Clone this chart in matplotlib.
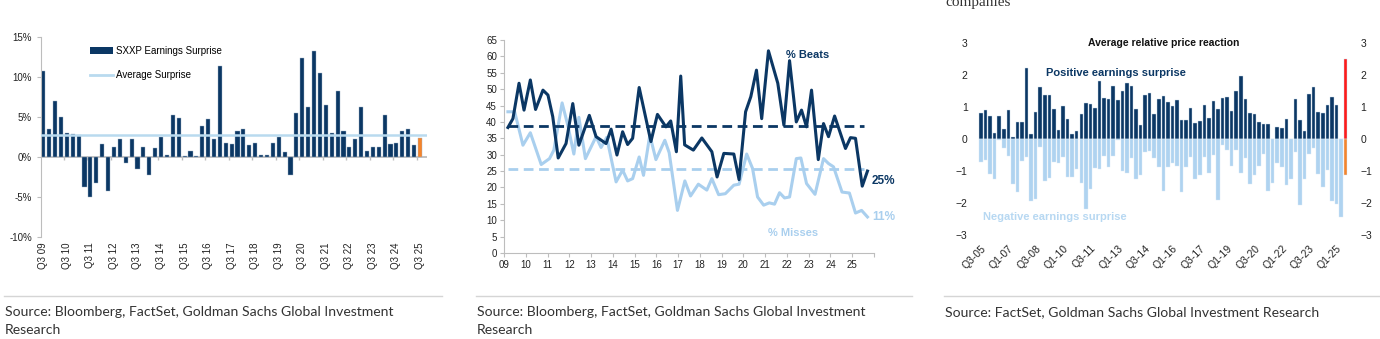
import numpy as np
import matplotlib.pyplot as plt
from matplotlib.patches import Patch
from matplotlib.lines import Line2D

plt.rcParams['font.family'] = ['Liberation Sans', 'DejaVu Sans']

NAVY = '#0b3764'
LIGHT = '#a9cfee'
ORANGE = '#f5842a'
RED = '#ff1a1a'
AXIS_GREY = '#bdbdbd'
TEXT = '#222222'

# ---- SXXP earnings surprise (%), Q3 09 .. Q3 25 ----
sxxp_surprise = [10.8, 3.5, 7.0, 5.0, 3.0, 2.9, 2.8, -3.75, -5.0, -3.2,
                 1.6, -4.3, 1.3, 2.3, -0.8, 2.2, -1.5, 1.3, -2.3, 1.1,
                 2.5, 0.2, 5.2, 4.9, 0.1, 0.7, 0.1, 3.9, 4.7, 2.3,
                 11.4, 1.8, 1.65, 3.2, 3.45, 1.5, 1.7, 0.3, 0.3, 1.75,
                 2.5, 0.65, -2.2, 5.45, 12.4, 6.2, 13.2, 10.5, 6.5, 3.0,
                 8.3, 3.3, 1.2, 2.2, 6.2, 0.8, 1.3, 1.3, 5.2, 1.6,
                 1.7, 3.3, 3.45, 1.45, 2.4]
avg_surprise = 2.7
surprise_labels = ['Q3 09', 'Q3 10', 'Q3 11', 'Q3 12', 'Q3 13', 'Q3 14',
                   'Q3 15', 'Q3 16', 'Q3 17', 'Q3 18', 'Q3 19', 'Q3 20',
                   'Q3 21', 'Q3 22', 'Q3 23', 'Q3 24', 'Q3 25']

# ---- % of companies beating / missing ----
beats_t = [9.18, 9.41, 9.69, 9.92, 10.21, 10.45, 10.79, 11.02, 11.24, 11.49,
           11.85, 12.16, 12.44, 12.92, 13.23, 13.69, 13.92, 14.19, 14.45, 14.68,
           14.91, 15.21, 15.75, 16.05, 16.44, 16.66, 16.92, 17.12, 17.3, 17.7,
           18.09, 18.55, 18.79, 19.1, 19.56, 19.8, 20.1, 20.34, 20.6, 20.84,
           21.15, 21.58, 21.86, 22.12, 22.43, 22.67, 22.9, 23.13, 23.44, 23.68,
           23.91, 24.19, 24.69, 24.92, 25.15, 25.46, 25.7]
beats = [38.3, 41.0, 51.8, 43.6, 52.8, 43.8, 49.7, 48.2, 41.6, 29.0,
         33.4, 45.6, 32.9, 42.0, 35.5, 33.4, 37.8, 29.9, 37.0, 33.1,
         35.0, 50.5, 34.0, 42.3, 38.5, 40.3, 30.9, 54.0, 33.0, 31.4,
         35.1, 30.9, 23.2, 30.4, 30.2, 22.4, 43.1, 47.7, 55.8, 41.0,
         61.7, 51.8, 39.0, 58.7, 40.0, 43.6, 38.5, 49.7, 28.5, 39.5,
         35.5, 41.8, 31.9, 35.2, 35.0, 20.4, 25.0]
misses_t = [9.18, 9.49, 9.87, 10.21, 10.71, 11.09, 11.29, 11.67, 11.93, 12.21,
            12.44, 12.74, 13.23, 13.46, 13.72, 14.15, 14.45, 14.68, 14.91, 15.21,
            15.41, 15.7, 15.98, 16.39, 16.59, 16.97, 17.31, 17.57, 17.93, 18.32,
            18.55, 18.86, 19.17, 19.56, 19.8, 20.15, 20.42, 20.65, 20.93, 21.19,
            21.43, 21.66, 21.89, 22.12, 22.43, 22.64, 22.9, 23.29, 23.68, 23.91,
            24.14, 24.53, 24.87, 25.15, 25.43, 25.7]
misses = [43.1, 43.1, 32.9, 36.7, 27.0, 28.8, 31.4, 45.8, 39.0, 30.2,
          41.4, 28.8, 35.5, 32.2, 35.3, 21.7, 25.3, 22.0, 22.7, 29.3,
          23.7, 36.0, 28.5, 34.4, 30.6, 13.0, 22.0, 17.4, 21.0, 19.2,
          22.7, 17.8, 18.1, 20.7, 21.0, 30.2, 25.8, 17.1, 14.6, 15.3,
          14.9, 18.4, 16.8, 17.1, 28.8, 29.0, 21.2, 17.9, 28.8, 27.3,
          26.3, 18.6, 18.3, 12.2, 13.0, 11.0]
beats_avg = 38.8
misses_avg = 25.5
year_labels = ['09', '10', '11', '12', '13', '14', '15', '16', '17',
               '18', '19', '20', '21', '22', '23', '24', '25', '']

# ---- average relative price reaction, Q3-05 .. Q3-25 ----
pos_reaction = [0.8, 0.9, 0.73, 0.2, 0.72, 0.3, 0.92, 0.07, 0.53, 0.52,
                2.22, 0.15, 0.83, 1.63, 1.37, 1.37, 0.93, 0.27, 1.03, 0.63,
                0.17, 0.25, 0.78, 1.13, 1.1, 0.96, 1.8, 1.27, 1.25, 1.65,
                1.23, 1.5, 1.75, 1.67, 0.95, 0.45, 1.38, 1.45, 0.78, 1.25,
                1.35, 1.17, 1.03, 1.22, 0.58, 0.58, 0.96, 0.5, 0.55, 1.05,
                0.67, 1.18, 0.94, 1.27, 1.32, 0.89, 1.51, 1.96, 1.24, 0.8,
                0.77, 0.54, 0.48, 0.46, 0.0, 0.37, 0.33, 0.62, 0.0, 1.25,
                0.58, 0.25, 1.4, 1.62, 0.85, 0.82, 1.06, 1.32, 1.06, 0.0,
                2.5]
neg_reaction = [-0.71, -0.66, -1.09, -1.26, -0.02, -0.29, -0.52, -1.42, -1.65, -0.68,
                -0.55, -1.95, -1.89, -0.24, -1.31, -1.23, -0.71, -0.74, -0.55, -1.2,
                -1.2, -0.94, -1.39, -2.2, -1.56, -0.9, -0.95, -0.52, -0.88, -0.52,
                -0.04, -0.99, -1.07, -0.6, -1.25, -1.12, -0.4, -0.37, -0.58, -0.86,
                -1.61, -0.86, -0.76, -0.84, -1.66, -0.89, -0.57, -1.25, -1.13, -0.55,
                -1.07, -0.5, -1.9, -0.2, -0.35, -0.85, -0.35, -1.05, -0.6, -1.42,
                -1.13, -0.85, -0.46, -1.62, -1.38, -0.75, -0.87, -1.43, -1.25, -0.42,
                -2.05, -1.25, -0.46, -0.28, -1.1, -1.5, -0.98, -1.95, -2.04, -2.43,
                -1.12]
reaction_labels = ['Q3-05', 'Q1-07', 'Q3-08', 'Q1-10', 'Q3-11', 'Q1-13', 'Q3-14',
                   'Q1-16', 'Q3-17', 'Q1-19', 'Q3-20', 'Q1-22', 'Q3-23', 'Q1-25']

W, H = 1380, 339
fig = plt.figure(figsize=(W / 100, H / 100), dpi=100)


def px_axes(x0, y0, x1, y1):
    # axes box given in pixel coords (top-left origin)
    return fig.add_axes([x0 / W, 1 - y1 / H, (x1 - x0) / W, (y1 - y0) / H])


# ===== left panel: SXXP earnings surprise =====
ax1 = px_axes(41, 37, 427, 237)
n1 = len(sxxp_surprise)
x1 = np.arange(n1)
colors1 = [NAVY] * (n1 - 1) + [ORANGE]
ax1.bar(x1, sxxp_surprise, width=0.7, color=colors1, edgecolor='#9fb3c8',
        linewidth=0.3, zorder=2)
ax1.axhline(avg_surprise, color='#b9daef', lw=1.8, zorder=3)
ax1.axhline(0, color=AXIS_GREY, lw=1.3, zorder=1)
ax1.vlines(np.arange(-0.5, n1, 4), -0.35, 0, color=AXIS_GREY, lw=1, zorder=1)
ax1.set_xlim(-0.4, 65.2)
ax1.set_ylim(-10, 15)
ax1.set_yticks(range(-10, 16, 5))
ax1.set_yticklabels([f'{v}%' for v in range(-10, 16, 5)])
ax1.set_xticks(np.arange(0, n1, 4))
ax1.set_xticklabels(surprise_labels, rotation=90, va='top')
ax1.tick_params(axis='x', length=0, pad=4, labelsize=7, labelcolor=TEXT)
ax1.tick_params(axis='y', length=3, color=AXIS_GREY, labelsize=7, labelcolor=TEXT)
for s in ['top', 'right', 'bottom']:
    ax1.spines[s].set_visible(False)
ax1.spines['left'].set_color(AXIS_GREY)
handles = [Patch(facecolor=NAVY, label='SXXP Earnings Surprise'),
           Line2D([0], [0], color='#b9daef', lw=2, label='Average Surprise')]
ax1.legend(handles=handles, loc='upper left', bbox_to_anchor=(0.105, 1.0),
           frameon=False, fontsize=7, handlelength=2.3, labelspacing=1.5,
           handletextpad=0.3)

# ===== middle panel: % beats / % misses =====
ax2 = px_axes(504, 40, 874, 253)
ax2.plot(misses_t, misses, color=LIGHT, lw=2.2, solid_joinstyle='round', zorder=2)
ax2.plot(beats_t, beats, color=NAVY, lw=2.2, solid_joinstyle='round', zorder=3)
ax2.hlines(beats_avg, beats_t[0], 25.55, color=NAVY, lw=2, linestyles=(0, (3.5, 2)))
ax2.hlines(misses_avg, misses_t[0], 25.55, color=LIGHT, lw=2, linestyles=(0, (3.5, 2)))
ax2.set_xlim(9, 26)
ax2.set_ylim(0, 65)
ax2.set_yticks(range(0, 66, 5))
ax2.set_xticks(range(9, 27))
ax2.set_xticklabels(year_labels)
ax2.tick_params(length=3, color=AXIS_GREY, labelsize=7, labelcolor=TEXT, pad=2)
for s in ['top', 'right']:
    ax2.spines[s].set_visible(False)
for s in ['left', 'bottom']:
    ax2.spines[s].set_color(AXIS_GREY)
ax2.text(22.95, 60.5, '% Beats', color=NAVY, fontsize=8, fontweight='bold', ha='center', va='center')
ax2.text(25.9, 21.9, f'{beats[-1]:.0f}%', color=NAVY, fontsize=8.5, fontweight='bold', ha='left', va='center')
ax2.text(25.9, 10.9, f'{misses[-1]:.0f}%', color=LIGHT, fontsize=8.5, fontweight='bold', ha='left', va='center')
ax2.text(22.28, 6.1, '% Misses', color=LIGHT, fontsize=8, fontweight='bold', ha='center', va='center')
for t in ax2.texts:
    t.set_clip_on(False)

# ===== right panel: average relative price reaction =====
ax3 = px_axes(976, 43, 1352, 235)
n3 = len(pos_reaction)
x3 = np.arange(n3)
pos_colors = [NAVY] * (n3 - 1) + [RED]
neg_colors = ['#afd3f0'] * (n3 - 1) + [ORANGE]
ax3.bar(x3, pos_reaction, width=0.78, color=pos_colors, edgecolor='#c9d9e8', linewidth=0.3)
ax3.bar(x3, neg_reaction, width=0.78, color=neg_colors, edgecolor='#d9e9f6', linewidth=0.3)
ax3.set_xlim(-1.1, 81.4)
ax3.set_ylim(-3, 3)
ax3.set_yticks(range(-3, 4))
ax3.tick_params(axis='y', length=0, labelsize=7.5, labelcolor=TEXT,
                labelleft=True, labelright=True, pad=6)
ax3.set_xticks(np.arange(0, n3, 6)[:len(reaction_labels)])
ax3.set_xticklabels(reaction_labels, rotation=45, ha='right', va='top',
                    rotation_mode='anchor')
ax3.tick_params(axis='x', length=0, labelsize=7.5, labelcolor=TEXT, pad=6)
for s in ax3.spines.values():
    s.set_visible(False)
ax3.text(0.5, 3.0, 'Average relative price reaction', transform=ax3.get_yaxis_transform(),
         ha='center', va='center', fontsize=7.5, fontweight='bold', color='#111111')
ax3.text(29.5, 2.06, 'Positive earnings surprise', ha='center', va='center',
         fontsize=8, fontweight='bold', color=NAVY)
ax3.text(16.3, -2.45, 'Negative earnings surprise', ha='center', va='center',
         fontsize=8, fontweight='bold', color='#b7d8f2')

# heading fragment running off the top edge
fig.text(945 / W, 1 - 6 / H, 'companies', family='Liberation Serif', fontsize=11,
         color='#333333', va='baseline')

# source notes beneath each chart
sources = ['Source: Bloomberg, FactSet, Goldman Sachs Global Investment\nResearch',
           'Source: Bloomberg, FactSet, Goldman Sachs Global Investment\nResearch',
           'Source: FactSet, Goldman Sachs Global Investment Research']
rules = [(4, 442), (476, 912), (944, 1380)]
for (r0, r1), src in zip(rules, sources):
    fig.add_artist(Line2D([r0 / W, r1 / W], [1 - 296 / H] * 2, color='#d5d5d5', lw=1))
    fig.text((r0 + 1) / W, 1 - 306 / H, src, family=['Lato', 'DejaVu Sans'],
             fontsize=10.1, color='#333333', va='top', linespacing=1.6)

fig.savefig('out.png', dpi=100)
